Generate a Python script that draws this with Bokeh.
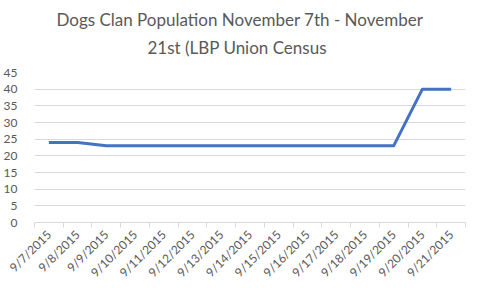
from bokeh.plotting import figure
from bokeh.models import Range1d, FixedTicker, Title
from bokeh.embed import file_html
from bokeh.resources import INLINE

dates = ["9/7/2015", "9/8/2015", "9/9/2015", "9/10/2015", "9/11/2015", "9/12/2015",
         "9/13/2015", "9/14/2015", "9/15/2015", "9/16/2015", "9/17/2015", "9/18/2015",
         "9/19/2015", "9/20/2015", "9/21/2015"]
population = [24, 24, 23, 23, 23, 23, 23, 23, 23, 23, 23, 23, 23, 40, 40]
y_ticks = [0, 5, 10, 15, 20, 25, 30, 35, 40, 45]
title_lines = ["Dogs Clan Population November 7th - November", "21st (LBP Union Census"]

FONT = "Lato"
TXT = "#595959"
GRID = "#D9D9D9"

n = len(dates)
xs = [i + 0.5 for i in range(n)]

p = figure(width=478, height=288, output_backend="svg", toolbar_location=None,
           x_range=Range1d(0, n), y_range=Range1d(0, 45),
           min_border_left=30, min_border_right=13, min_border_top=72, min_border_bottom=64)
p.title.visible = False
# bottom line first (closest to plot), then the top line
p.add_layout(Title(text=title_lines[1], align="left", text_font=FONT, text_font_size="17px",
                   text_font_style="normal", text_color=TXT, offset=113, standoff=30), "above")
p.add_layout(Title(text=title_lines[0], align="left", text_font=FONT, text_font_size="17px",
                   text_font_style="normal", text_color=TXT, offset=22, standoff=-20), "above")
p.outline_line_color = None
p.background_fill_color = "white"
p.border_fill_color = "white"

p.line(xs, population, line_color="#4472C4", line_width=3, line_join="round")

# y axis
p.yaxis.ticker = FixedTicker(ticks=y_ticks)
p.yaxis.axis_line_color = None
p.yaxis.major_tick_line_color = None
p.yaxis.minor_tick_line_color = None
p.yaxis.major_label_standoff = 11
p.yaxis.major_label_text_font = FONT
p.yaxis.major_label_text_font_size = "12px"
p.yaxis.major_label_text_color = TXT

# x axis
p.xaxis.ticker = FixedTicker(ticks=xs, minor_ticks=list(range(n + 1)))
p.xaxis.major_label_overrides = {x: d for x, d in zip(xs, dates)}
p.xaxis.axis_line_color = GRID
p.xaxis.major_tick_line_color = None
p.xaxis.minor_tick_line_color = GRID
p.xaxis.minor_tick_in = 0
p.xaxis.minor_tick_out = 5
p.xaxis.major_label_orientation = 0.785
p.xaxis.major_label_standoff = 4
p.xaxis.major_label_text_font = FONT
p.xaxis.major_label_text_font_size = "12px"
p.xaxis.major_label_text_color = TXT

p.xgrid.grid_line_color = None
p.ygrid.grid_line_color = GRID
p.ygrid.grid_line_width = 1

open("out.html", "w").write(file_html(p, INLINE))
